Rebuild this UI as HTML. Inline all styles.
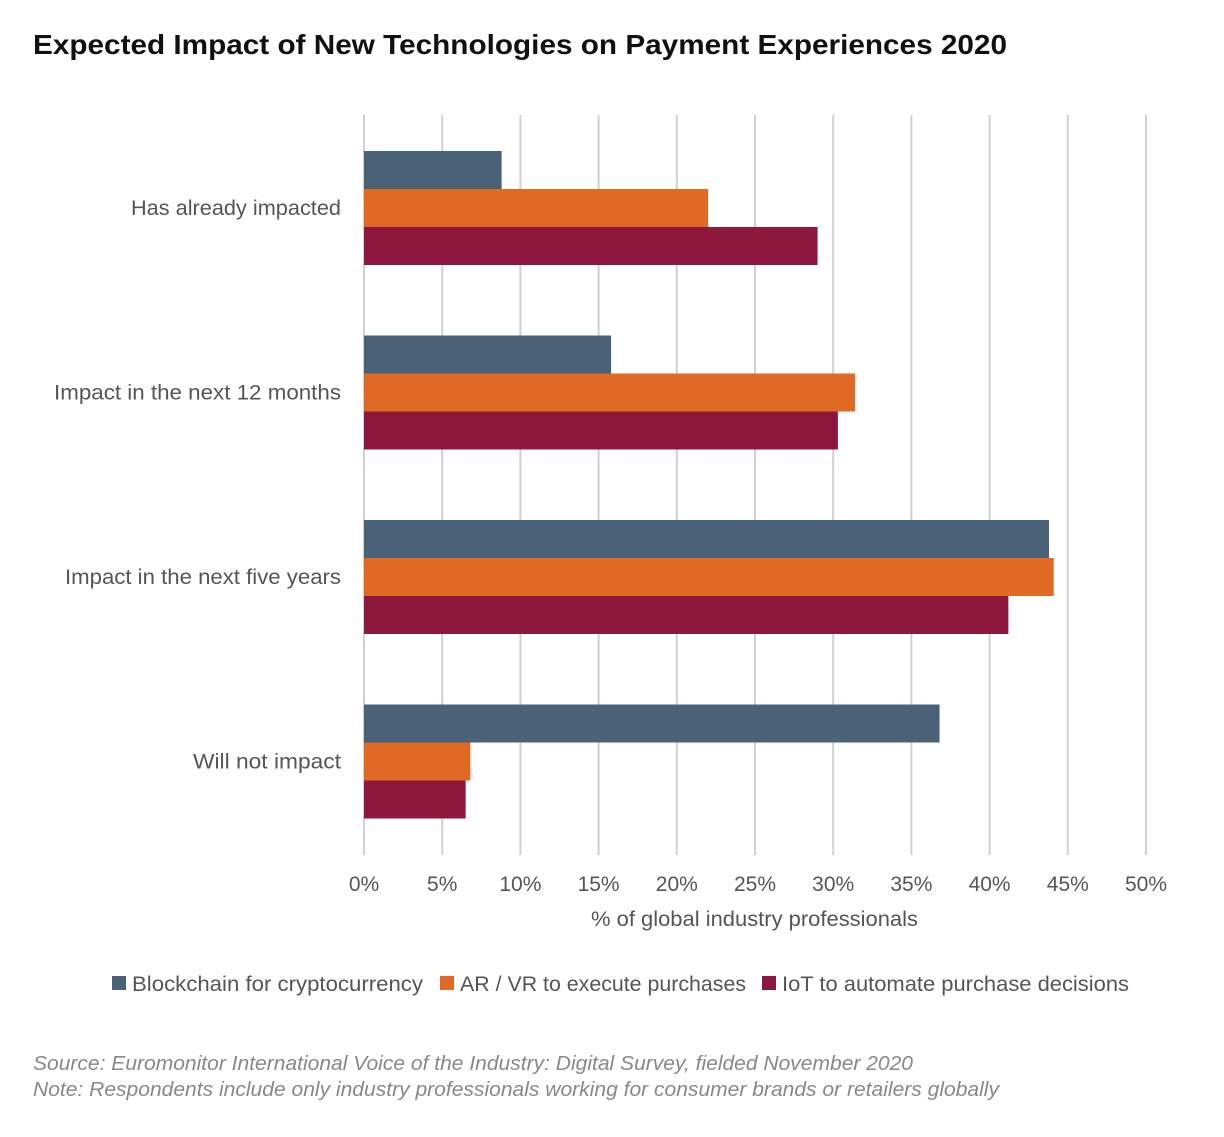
<!DOCTYPE html>
<html><head><meta charset="utf-8"><style>
body{margin:0;background:#fff;width:1224px;height:1132px;overflow:hidden;font-family:"Liberation Sans",sans-serif}
svg text{font-family:"Liberation Sans",sans-serif}
</style></head><body>
<svg id="chart" width="1224" height="1132" xmlns="http://www.w3.org/2000/svg">
<text x="33" y="54" font-size="28" font-weight="bold" fill="#111" textLength="974" lengthAdjust="spacingAndGlyphs">Expected Impact of New Technologies on Payment Experiences 2020</text>
<g id="grid"></g><g id="bars"></g><g id="labels"></g>
<text x="591" y="926" font-size="21" fill="#555" textLength="327" lengthAdjust="spacingAndGlyphs">% of global industry professionals</text>
<g id="legend"></g>
<text x="33" y="1070" font-size="20" font-style="italic" fill="#888" textLength="880" lengthAdjust="spacingAndGlyphs">Source: Euromonitor International Voice of the Industry: Digital Survey, fielded November 2020</text>
<text x="33" y="1096" font-size="20" font-style="italic" fill="#888" textLength="966" lengthAdjust="spacingAndGlyphs">Note: Respondents include only industry professionals working for consumer brands or retailers globally</text>
</svg>
<script>
const categories=["Has already impacted","Impact in the next 12 months","Impact in the next five years","Will not impact"];
const seriesNames=["Blockchain for cryptocurrency","AR / VR to execute purchases","IoT to automate purchase decisions"];
const blockchain=[8.8,15.8,43.8,36.8];
const arvr=[22.0,31.4,44.1,6.8];
const iot=[29.0,30.3,41.2,6.5];
const ticks=[0,5,10,15,20,25,30,35,40,45,50];
const colors=["#4a6278","#e06a24","#8e173e"];
const NS="http://www.w3.org/2000/svg";
const x=v=>364+v*(1146-364)/50;
const bandTop=i=>115+i*184.5;
const labelWidths=[210,287,276,148];
const legendX=[112,440,762];
const legendTextW=[291,286,347];
function mk(t,a,p){const e=document.createElementNS(NS,t);for(const k in a)e.setAttribute(k,a[k]);document.getElementById(p).appendChild(e);return e;}
ticks.forEach(t=>{
 const l=mk('line',{x1:x(t),x2:x(t),y1:115,y2:855,stroke:'#d0d0d0','stroke-width':2},'grid');
 
 
 const tx=mk('text',{x:x(t),y:891,'font-size':21,fill:'#555','text-anchor':'middle'},'labels');
 tx.textContent=t+'%';
 
 
});
const series=[blockchain,arvr,iot];
categories.forEach((c,i)=>{
 const top=bandTop(i)+36;
 series.forEach((s,j)=>{
  const r=mk('rect',{x:x(0),y:top+j*38,width:x(s[i])-x(0),height:38,fill:colors[j]},'bars');
  
  
 });
 const t=mk('text',{x:341-labelWidths[i],y:top+64,'font-size':21,fill:'#555',textLength:labelWidths[i],lengthAdjust:'spacingAndGlyphs'},'labels');
 t.textContent=c;
 
 
});
seriesNames.forEach((n,j)=>{
 const r=mk('rect',{x:legendX[j],y:976,width:14,height:14,fill:colors[j]},'legend');
 
 
 const t=mk('text',{x:legendX[j]+20,y:991,'font-size':21,fill:'#555',textLength:legendTextW[j],lengthAdjust:'spacingAndGlyphs'},'legend');
 t.textContent=n;
 
 
});
</script>
</body></html>
